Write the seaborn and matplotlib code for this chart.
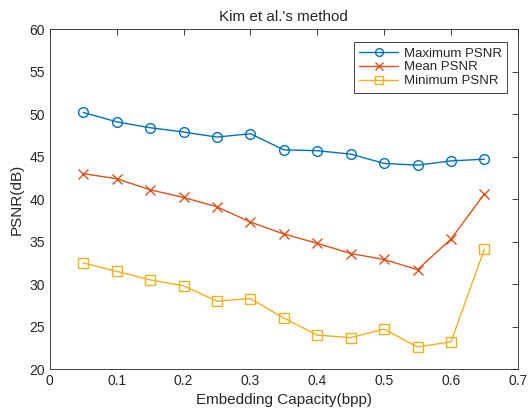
import matplotlib
matplotlib.use("Agg")
import matplotlib.pyplot as plt
import seaborn as sns
import pandas as pd

# data
capacity = [0.05, 0.10, 0.15, 0.20, 0.25, 0.30, 0.35, 0.40, 0.45, 0.50, 0.55, 0.60, 0.65]
max_psnr = [50.2, 49.1, 48.4, 47.9, 47.3, 47.7, 45.8, 45.7, 45.3, 44.2, 44.0, 44.5, 44.7]
mean_psnr = [43.0, 42.4, 41.1, 40.2, 39.1, 37.3, 35.9, 34.8, 33.6, 32.9, 31.7, 35.3, 40.6]
min_psnr = [32.5, 31.5, 30.5, 29.8, 28.0, 28.3, 26.0, 24.0, 23.7, 24.7, 22.6, 23.2, 34.1]
series_names = ["Maximum PSNR", "Mean PSNR", "Minimum PSNR"]

df = pd.DataFrame({"cap": capacity * 3,
                   "psnr": max_psnr + mean_psnr + min_psnr,
                   "series": [s for s in series_names for _ in capacity]})

sns.set_style("white")
plt.rcParams["font.family"] = ["Liberation Sans", "DejaVu Sans"]

fig = plt.figure(figsize=(5.3, 4.11), dpi=100)
ax = fig.add_axes([0.094, 0.102, 0.883, 0.827])

colors = ["#0072BD", "#D95319", "#EDB120"]
markers = ["o", "x", "s"]
for name, c, m in zip(series_names, colors, markers):
    sub = df[df["series"] == name]
    sns.lineplot(data=sub, x="cap", y="psnr", ax=ax, color=c, marker=m,
                 markersize=7, linewidth=1, label=name,
                 markerfacecolor="none", markeredgecolor=c, markeredgewidth=1)

ax.set_xlim(0, 0.7)
ax.set_ylim(20, 60)
ax.set_xticks([0, 0.1, 0.2, 0.3, 0.4, 0.5, 0.6, 0.7])
ax.set_xticklabels(["0", "0.1", "0.2", "0.3", "0.4", "0.5", "0.6", "0.7"])
ax.set_yticks(range(20, 61, 5))
ax.tick_params(direction="in", top=True, right=True, length=4, width=0.6,
               labelsize=10, colors="#262626")
for sp in ax.spines.values():
    sp.set_color("#262626")
    sp.set_linewidth(0.6)

ax.set_xlabel("Embedding Capacity(bpp)", fontsize=11)
ax.set_ylabel("PSNR(dB)", fontsize=11)
ax.set_title("Kim et al.'s method", fontsize=11)

leg = ax.legend(loc="upper right", bbox_to_anchor=(0.977, 0.962), fontsize=9.5,
                fancybox=False, framealpha=1, edgecolor="#262626",
                borderaxespad=0, handlelength=3.0, handletextpad=0.4,
                labelspacing=0.12, borderpad=0.4, markerscale=0.8)
leg.get_frame().set_linewidth(0.6)

fig.savefig("out.png", dpi=100)
